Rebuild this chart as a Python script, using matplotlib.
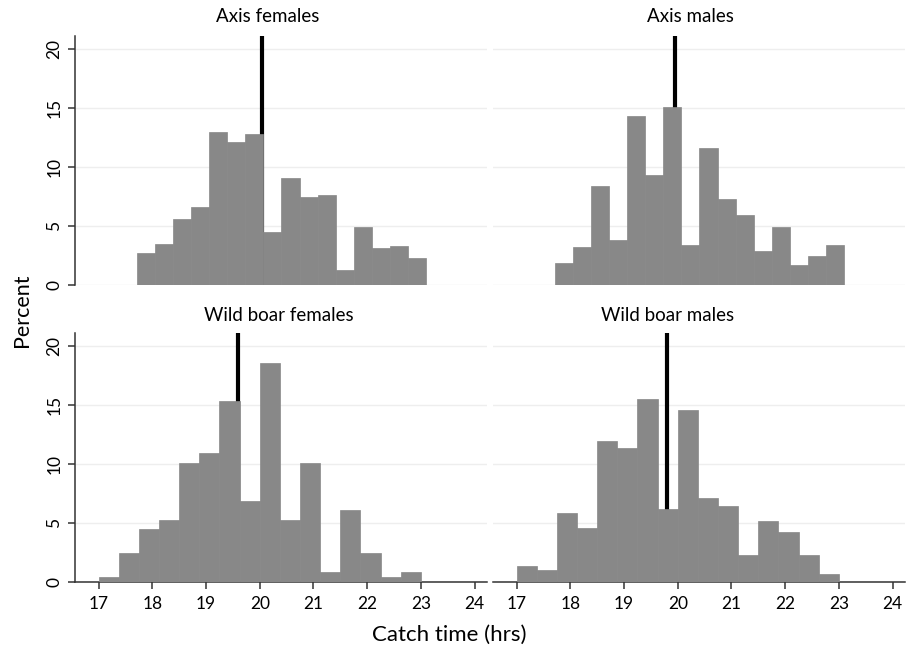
import numpy as np
import matplotlib
matplotlib.use("Agg")
import matplotlib.pyplot as plt

plt.rcParams['font.family'] = ['Lato', 'DejaVu Sans']

titles = ["Axis females", "Axis males", "Wild boar females", "Wild boar males"]

# histogram bin ranges (hrs) and percentages
axis_first_edge, axis_last_edge = 17.705, 23.10
boar_first_edge, boar_last_edge = 17.0, 23.0

axis_females = [2.68, 3.50, 5.56, 6.58, 12.99, 12.15, 12.77, 4.52,
                9.10, 7.43, 7.66, 1.27, 4.92, 3.11, 3.28, 2.26]
axis_males = [1.89, 3.25, 8.42, 3.81, 14.32, 9.35, 15.08, 3.42,
              11.64, 7.26, 5.90, 2.88, 4.94, 1.72, 2.49, 3.42]
boar_females = [0.40, 2.40, 4.44, 5.23, 10.08, 10.90, 15.34, 6.86,
                18.56, 5.25, 10.08, 0.79, 6.05, 2.40, 0.40, 0.79]
boar_males = [1.30, 0.99, 5.82, 4.52, 11.92, 11.33, 15.45, 6.13,
              14.52, 7.09, 6.44, 2.26, 5.17, 4.21, 2.26, 0.62]

mean_times = [20.05, 19.95, 19.60, 19.80]

x_ticks = [17, 18, 19, 20, 21, 22, 23, 24]
y_ticks = [0, 5, 10, 15, 20]

series = [axis_females, axis_males, boar_females, boar_males]
ranges = [(axis_first_edge, axis_last_edge), (axis_first_edge, axis_last_edge),
          (boar_first_edge, boar_last_edge), (boar_first_edge, boar_last_edge)]

W, H = 913, 650
fig = plt.figure(figsize=(W / 100, H / 100), dpi=100)

# axes boxes in pixels: (left, top, right, bottom)
boxes = [(75, 36, 487, 285), (493, 36, 905, 285),
         (75, 332.7, 487, 581.7), (493, 332.7, 905, 581.7)]
title_pos = [(268, 16), (690, 16), (279, 315), (668, 315)]

spine_col = "#333333"
bar_col = "#888888"

for i, (vals, rng, mt, box) in enumerate(zip(series, ranges, mean_times, boxes)):
    l, t, r, b = box
    ax = fig.add_axes([l / W, 1 - b / H, (r - l) / W, (b - t) / H])
    edges = np.linspace(rng[0], rng[1], len(vals) + 1)
    ax.bar(edges[:-1], vals, width=np.diff(edges), align='edge',
           color=bar_col, edgecolor=bar_col, linewidth=0.5, zorder=3)
    ax.axvline(mt, color='black', linewidth=3.0, zorder=2)
    ax.set_xlim(16.56, 24.23)
    ax.set_ylim(0, 21.1)
    ax.set_yticks(y_ticks)
    ax.set_xticks(x_ticks)
    ax.grid(axis='y', color='#eeeeee', linewidth=1.0, zorder=0)
    ax.set_axisbelow(True)
    for s in ['top', 'right']:
        ax.spines[s].set_visible(False)
    left_col = i in (0, 2)
    bottom_row = i in (2, 3)
    ax.spines['left'].set_visible(left_col)
    ax.spines['bottom'].set_visible(bottom_row)
    ax.spines['left'].set_color(spine_col)
    ax.spines['bottom'].set_color(spine_col)
    ax.spines['left'].set_linewidth(1.1)
    ax.spines['bottom'].set_linewidth(1.1)
    ax.tick_params(axis='y', left=left_col, labelleft=left_col, length=5,
                   width=1.1, color=spine_col, labelsize=12.5, pad=4)
    ax.tick_params(axis='x', bottom=bottom_row, labelbottom=bottom_row, length=5,
                   width=1.1, color=spine_col, labelsize=12.5, pad=5)
    if left_col:
        for lab in ax.get_yticklabels():
            lab.set_rotation(90)
            lab.set_va('center')
    tx, ty = title_pos[i]
    fig.text(tx / W, 1 - ty / H, titles[i], ha='center', va='center', fontsize=13.5)

fig.text(22 / W, 1 - 310 / H, "Percent", rotation=90, ha='center', va='center', fontsize=15.5)
fig.text(449 / W, 1 - 635 / H, "Catch time (hrs)", ha='center', va='center', fontsize=16)

fig.savefig("out.png", dpi=100, facecolor='white')
